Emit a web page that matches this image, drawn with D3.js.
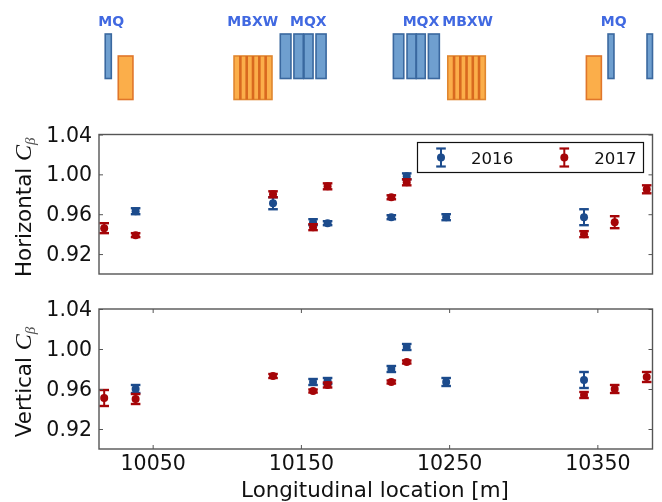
<!DOCTYPE html>
<html>
<head>
<meta charset="utf-8">
<script src="https://cdn.jsdelivr.net/npm/d3@7"></script>
<style>
  html, body { margin: 0; padding: 0; background: #fff; }
  text { font-family: "DejaVu Sans", sans-serif; fill: #111; }
  .tick line, .domain { stroke: #555; }
  svg { filter: blur(0.35px); }
</style>
</head>
<body>
<script>
// locations of the measurements [m]
const locH2016 = [10038.5, 10131.2, 10158.2, 10168, 10211, 10221.4, 10248, 10341]
const horiz2016 = [0.963, 0.971, 0.952, 0.951, 0.957, 0.998, 0.957, 0.957]
const horizErr2016 = [0.003, 0.006, 0.003, 0.002, 0.002, 0.003, 0.003, 0.008]

const locH2017 = [10017.3, 10038.5, 10131.2, 10158.2, 10168, 10211, 10221.4, 10341, 10361.7, 10383.3]
const horiz2017 = [0.946, 0.939, 0.980, 0.947, 0.988, 0.977, 0.992, 0.940, 0.952, 0.985]
const horizErr2017 = [0.005, 0.002, 0.003, 0.003, 0.003, 0.002, 0.003, 0.003, 0.006, 0.004]

const locV2016 = [10038.5, 10158.2, 10168, 10211, 10221.4, 10248, 10341]
const vert2016 = [0.960, 0.967, 0.968, 0.980, 1.002, 0.967, 0.969]
const vertErr2016 = [0.004, 0.003, 0.003, 0.003, 0.003, 0.004, 0.008]

const locV2017 = [10017.3, 10038.5, 10131.2, 10158.2, 10168, 10211, 10221.4, 10341, 10361.7, 10383.3]
const vert2017 = [0.951, 0.950, 0.973, 0.958, 0.964, 0.967, 0.987, 0.954, 0.960, 0.972]
const vertErr2017 = [0.008, 0.005, 0.002, 0.0015, 0.0025, 0.0015, 0.0015, 0.003, 0.004, 0.005]

const years = ["2016", "2017"]
const xTicks = [10050, 10150, 10250, 10350]
const yTicks = [0.92, 0.96, 1.00, 1.04]

// magnets of the beam line, start and end [m]
const quadStart = [10018, 10136.1, 10145.3, 10152.1, 10160.2, 10212.4, 10221.6, 10227.9, 10236, 10357.2, 10383.5]
const quadEnd = [10022.1, 10143.3, 10151.6, 10158.2, 10167, 10219.4, 10227.7, 10233.9, 10243.4, 10361.2, 10387.2]
const dipoleStart = [10026.8, 10342.6]
const dipoleEnd = [10036.7, 10352.7]
const stackStart = [10104.9, 10249.1]
const stackEnd = [10130.5, 10274.4]
const modulesPerStack = 6
const magnetNames = ["MQ", "MBXW", "MQX", "MQX", "MBXW", "MQ"]
const magnetNameLoc = [10022, 10117.5, 10155, 10231, 10262.5, 10361]

const BLUE = "#1c4b8c", RED = "#a50508"
const left = 99, right = 652.5

const svg = d3.select("body").append("svg")
    .attr("width", 662)
    .attr("height", 502)
    .style("display", "block")

const x = d3.scaleLinear().domain([10013.8, 10387.2]).range([left, right])

// schematic on top
const schema = svg.append("g")

const drawBoxes = (starts, ends, top, bottom, fill, stroke) => {
    schema.selectAll(null)
        .data(starts)
        .join("rect")
        .attr("x", d => x(d))
        .attr("width", (d, i) => x(ends[i]) - x(d))
        .attr("y", top)
        .attr("height", bottom - top)
        .attr("fill", fill)
        .attr("stroke", stroke)
        .attr("stroke-width", 1.6)
}

drawBoxes(quadStart, quadEnd, 34, 78.5, "#6f9fcf", "#3a689f")
drawBoxes(dipoleStart, dipoleEnd, 56, 99.5, "#fbae4a", "#e0762a")
drawBoxes(stackStart, stackEnd, 56, 99.5, "#fbae4a", "#e0862f")

// dark lines between the modules of a stack
stackStart.forEach((s, i) => {
    const step = (stackEnd[i] - s) / modulesPerStack
    schema.selectAll(null)
        .data(d3.range(1, modulesPerStack))
        .join("line")
        .attr("x1", d => x(s + d * step))
        .attr("x2", d => x(s + d * step))
        .attr("y1", 56)
        .attr("y2", 99.5)
        .attr("stroke", "#d9691f")
        .attr("stroke-width", 2.6)
})

schema.selectAll(null)
    .data(magnetNames)
    .join("text")
    .attr("x", (d, i) => x(magnetNameLoc[i]))
    .attr("y", 26)
    .attr("text-anchor", "middle")
    .attr("font-size", 14)
    .attr("font-weight", "bold")
    .style("fill", "#4169e1")
    .text(d => d)

const drawSeries = (g, y, locs, values, errs, color) => {
    const pts = g.append("g")
        .selectAll("g")
        .data(values)
        .join("g")
        .attr("transform", (d, i) => `translate(${x(locs[i])},0)`)

    pts.append("line")
        .attr("y1", (d, i) => y(d - errs[i]))
        .attr("y2", (d, i) => y(d + errs[i]))
        .attr("stroke", color)
        .attr("stroke-width", 2)

    for (const sign of [-1, 1]) {
        pts.append("line")
            .attr("x1", -4.8)
            .attr("x2", 4.8)
            .attr("y1", (d, i) => y(d + sign * errs[i]))
            .attr("y2", (d, i) => y(d + sign * errs[i]))
            .attr("stroke", color)
            .attr("stroke-width", 2.4)
    }

    pts.append("circle")
        .attr("cy", d => y(d))
        .attr("r", 4)
        .attr("fill", color)
}

const drawPanel = (top, bottom, name, series, withXAxis) => {
    const y = d3.scaleLinear().domain([0.90, 1.04]).range([bottom, top])
    const g = svg.append("g")

    series.forEach(s => drawSeries(g, y, s[0], s[1], s[2], s[3]))

    // left ticks with labels, right ticks without
    const axLeft = g.append("g")
        .attr("transform", `translate(${left},0)`)
        .call(d3.axisLeft(y).tickValues(yTicks).tickFormat(d3.format(".2f")).tickSize(-4).tickPadding(7))
    axLeft.selectAll("text").attr("font-size", 20.5)

    g.append("g")
        .attr("transform", `translate(${right},0)`)
        .call(d3.axisRight(y).tickValues(yTicks).tickFormat("").tickSize(-4))

    if (withXAxis) {
        const axBottom = g.append("g")
            .attr("transform", `translate(0,${bottom})`)
            .call(d3.axisBottom(x).tickValues(xTicks).tickFormat(d3.format("d")).tickSize(-4).tickPadding(6))
        axBottom.selectAll("text").attr("font-size", 20.5)

        g.append("g")
            .attr("transform", `translate(0,${top})`)
            .call(d3.axisTop(x).tickValues(xTicks).tickFormat("").tickSize(-4))
    }

    g.selectAll(".domain").attr("stroke-width", 0)
    g.selectAll(".tick line").attr("stroke-width", 1)

    g.append("rect")
        .attr("x", left)
        .attr("y", top)
        .attr("width", right - left)
        .attr("height", bottom - top)
        .attr("fill", "none")
        .attr("stroke", "#555")
        .attr("stroke-width", 1.4)

    // y label with the C beta written in math style
    const label = g.append("text")
        .attr("transform", `translate(31,${(top + bottom) / 2 + 3}) rotate(-90)`)
        .attr("text-anchor", "middle")
        .attr("font-size", 21.4)
    label.append("tspan").text(name + " ")
    label.append("tspan").attr("font-style", "italic").attr("font-family", "Liberation Serif")
        .attr("font-size", 24).text("C")
    label.append("tspan").attr("font-style", "italic").attr("font-family", "Liberation Serif")
        .attr("font-size", 15).attr("dy", 4).style("fill", "#555").text("β")
}

drawPanel(134.5, 274, "Horizontal", [
    [locH2016, horiz2016, horizErr2016, BLUE],
    [locH2017, horiz2017, horizErr2017, RED]
], false)

drawPanel(309, 449, "Vertical", [
    [locV2016, vert2016, vertErr2016, BLUE],
    [locV2017, vert2017, vertErr2017, RED]
], true)

svg.append("text")
    .attr("x", 375)
    .attr("y", 497)
    .attr("text-anchor", "middle")
    .attr("font-size", 21.4)
    .text("Longitudinal location [m]")

// legend
const legend = svg.append("g")
legend.append("rect")
    .attr("x", 417.5)
    .attr("y", 142.5)
    .attr("width", 226)
    .attr("height", 30)
    .attr("fill", "#fff")
    .attr("stroke", "#111")
    .attr("stroke-width", 1.2)

const legendItems = legend.selectAll("g")
    .data(years)
    .join("g")
    .attr("transform", (d, i) => `translate(${441 + i * 123.3},157.5)`)

legendItems.each(function (d, i) {
    const item = d3.select(this)
    const color = i == 0 ? BLUE : RED
    item.append("line").attr("y1", -9).attr("y2", 9).attr("stroke", color).attr("stroke-width", 2)
    for (const cy of [-9, 9]) {
        item.append("line").attr("x1", -4.8).attr("x2", 4.8).attr("y1", cy).attr("y2", cy)
            .attr("stroke", color).attr("stroke-width", 2.2)
    }
    item.append("circle").attr("r", 4).attr("fill", color)
    item.append("text").attr("x", 30).attr("y", 6.5).attr("font-size", 16.6).text(d)
})
</script>
</body>
</html>
